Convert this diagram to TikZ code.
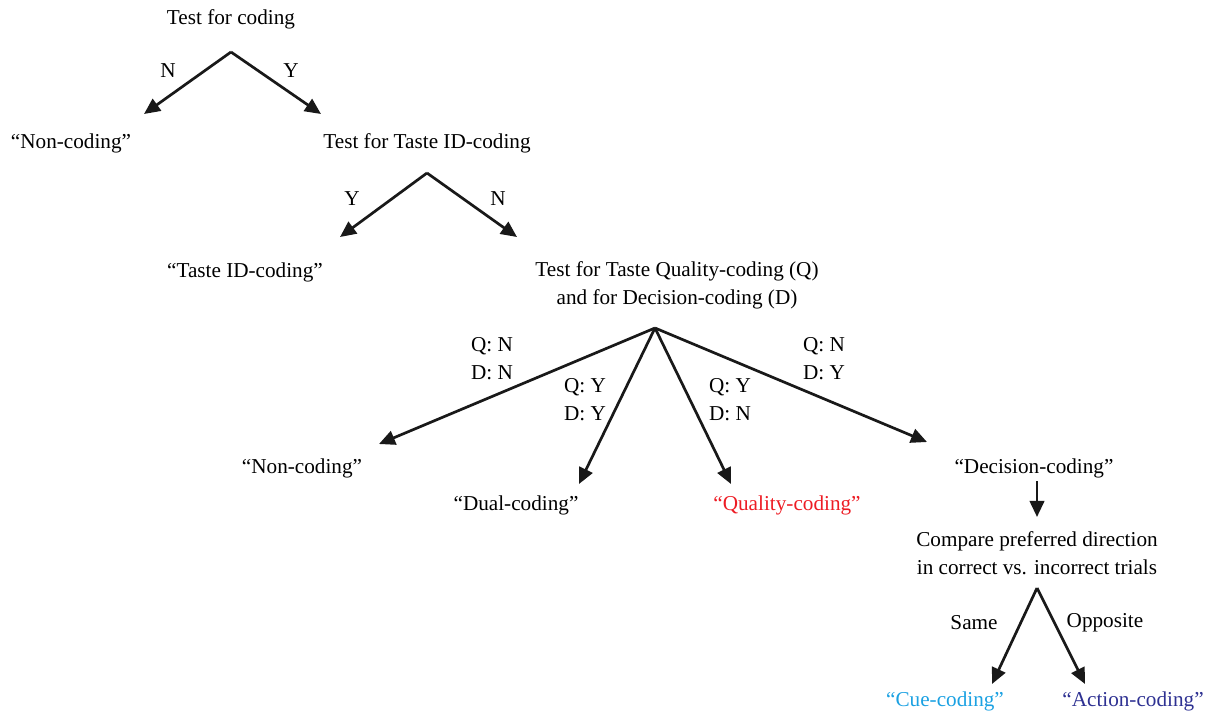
\documentclass[tikz,border=0pt]{standalone}
\usepackage{fontspec}
\setmainfont{Liberation Serif}
\usetikzlibrary{arrows.meta}

\definecolor{qred}{HTML}{ED1C24}
\definecolor{cuecyan}{HTML}{1BA1E2}
\definecolor{actblue}{HTML}{2E3192}

\begin{document}
\begin{tikzpicture}[x=0.5pt, y=-0.5pt,
  every node/.style={font=\fontsize{10.6}{13}\selectfont, inner sep=0pt, align=center},
  arr/.style={-{Triangle[length=8pt, width=7.2pt]}, line width=1.35pt, color=black!90}]

\useasboundingbox (0,0) rectangle (1214,713);

\node (test) at (231, 19) {Test for coding};
\coordinate (a1) at (231, 52);
\coordinate (t1l) at (144, 114);
\coordinate (t1r) at (321, 114);
\node (nY1) at (168, 71) {N};
\node (yY1) at (291, 71) {Y};
\node (non1) at (71, 143) {``Non-coding''};
\node (taste) at (427, 143) {Test for Taste ID-coding};

\coordinate (a2) at (427, 173);
\coordinate (t2l) at (340, 237);
\coordinate (t2r) at (517, 237);
\node (y2) at (352, 199) {Y};
\node (n2) at (498, 199) {N};
\node (tasteid) at (245, 272) {``Taste ID-coding''};
\node (qual) at (677, 285) {Test for Taste Quality-coding (Q)\\[1pt]and for Decision-coding (D)};

\coordinate (a3) at (655, 328);
\coordinate (t3a) at (379, 444);
\coordinate (t3b) at (579, 484);
\coordinate (t3c) at (731, 484);
\coordinate (t3d) at (927, 442);
\node (qnn) at (492, 359) {Q: N\\[1pt]D: N};
\node (qyy) at (585, 400) {Q: Y\\[1pt]D: Y};
\node (qyn) at (730, 400) {Q: Y\\[1pt]D: N};
\node (qny) at (824, 359) {Q: N\\[1pt]D: Y};
\node (non2) at (302, 468) {``Non-coding''};
\node (dual) at (516, 505) {``Dual-coding''};
\node[text=qred] (quality) at (787, 505) {``Quality-coding''};
\node (dec) at (1034, 468) {``Decision-coding''};

\node (cmp) at (1037, 553) {Compare preferred direction\\[1pt]in correct vs. incorrect trials};
\coordinate (a4) at (1037, 588);
\coordinate (t4l) at (992, 684);
\coordinate (t4r) at (1085, 684);
\node (same) at (974, 623) {Same};
\node (opp) at (1105, 623) {Opposite};
\node[text=cuecyan] (cue) at (945, 701) {``Cue-coding''};
\node[text=actblue] (act) at (1133, 701) {``Action-coding''};

% arrows
\draw[arr] (a1) -- (t1l);
\draw[arr] (a1) -- (t1r);
\draw[arr] (a2) -- (t2l);
\draw[arr] (a2) -- (t2r);
\draw[arr] (a3) -- (t3a);
\draw[arr] (a3) -- (t3b);
\draw[arr] (a3) -- (t3c);
\draw[arr] (a3) -- (t3d);
\draw[arr, shorten <=1.5pt, shorten >=7pt] (dec.south -| a4) -- (cmp.north -| a4);
\draw[arr] (a4) -- (t4l);
\draw[arr] (a4) -- (t4r);

\end{tikzpicture}
\end{document}
